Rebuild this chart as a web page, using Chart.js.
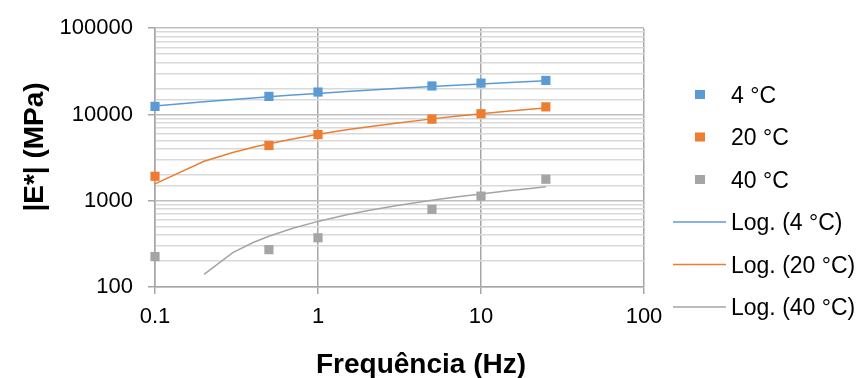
<!DOCTYPE html>
<html>
<head>
<meta charset="utf-8">
<script src="https://cdn.jsdelivr.net/npm/chart.js@4.4.1/dist/chart.umd.min.js"></script>
<style>
  html, body { margin: 0; padding: 0; background: #fff; }
  #wrap { width: 863px; height: 378px; position: relative; }
</style>
</head>
<body>
<div id="wrap"><canvas id="chart"></canvas></div>
<script>
// measured points
const freqs = [0.1, 0.5, 1, 5, 10, 25];
const e4 = [12400, 16200, 18200, 21400, 23100, 24800];
const e20 = [1920, 4370, 5850, 8830, 10200, 12250];
const e40 = [225, 271, 372, 795, 1130, 1775];

// log trendlines
const trendFreqs = [0.1, 0.2, 0.3, 0.4, 0.5, 0.7, 1, 1.5, 2, 3, 5, 7, 10, 15, 20, 25];
const trend4 = [12500, 14020, 14910, 15540, 16030, 16770, 17550, 18430, 19070, 19950, 21070, 21810, 22590, 23480, 24110, 24600];
const trend20 = [1570, 2870, 3620, 4160, 4580, 5210, 5880, 6630, 7170, 7930, 8890, 9510, 10180, 10940, 11480, 11890];
const trend40 = [null, 140, 250, 328, 388, 479, 576, 686, 764, 874, 1012, 1103, 1200, 1310, 1388, 1448];

const xTicks = [0.1, 1, 10, 100];
const seriesLabels = ['4 °C', '20 °C', '40 °C'];
const trendLabels = ['Log. (4 °C)', 'Log. (20 °C)', 'Log. (40 °C)'];
const xTitle = 'Frequência (Hz)';
const yTitle = '|E*| (MPa)';

const colors = ['#5b9bd5', '#ed7d31', '#a5a5a5'];
const FONT = "'Liberation Sans', Arial, sans-serif";

function pts(xs, ys) {
  return xs.map((x, i) => ({ x: x, y: ys[i] })).filter(p => p.y != null);
}

const datasets = [];
[e4, e20, e40].forEach((ys, i) => {
  datasets.push({
    label: seriesLabels[i],
    data: pts(freqs, ys),
    showLine: false,
    pointStyle: 'rect',
    pointRadius: 6.5,
    pointBorderWidth: 0,
    backgroundColor: colors[i],
    borderColor: colors[i],
    clip: false,
    order: 1
  });
});
[trend4, trend20, trend40].forEach((ys, i) => {
  datasets.push({
    label: trendLabels[i],
    data: pts(trendFreqs, ys),
    showLine: true,
    pointRadius: 0,
    borderWidth: 1.5,
    borderColor: colors[i],
    backgroundColor: colors[i],
    tension: 0,
    clip: false,
    order: 2
  });
});

// legend + axis titles drawn by hand to sit where Excel puts them
const decor = {
  id: 'decor',
  afterDraw(chart) {
    const ctx = chart.ctx;
    ctx.save();
    ctx.fillStyle = '#000';
    ctx.font = '23px ' + FONT;
    ctx.textAlign = 'left';
    ctx.textBaseline = 'alphabetic';
    chart.data.datasets.forEach((ds, i) => {
      const cy = 94.5 + i * 42.5;
      if (ds.showLine) {
        ctx.strokeStyle = ds.borderColor;
        ctx.lineWidth = 1.5;
        ctx.beginPath();
        ctx.moveTo(673, cy);
        ctx.lineTo(726, cy);
        ctx.stroke();
      } else {
        ctx.fillStyle = ds.backgroundColor;
        ctx.fillRect(695, cy - 4.5, 10, 9);
      }
      ctx.fillStyle = '#000';
      ctx.fillText(ds.label, 731, cy + 8.2);
    });

    ctx.font = 'bold 28px ' + FONT;
    ctx.textAlign = 'center';
    ctx.fillText(xTitle, 421, 373);
    ctx.translate(43, 147);
    ctx.rotate(-Math.PI / 2);
    ctx.fillText(yTitle, 0, 0);
    ctx.restore();
  }
};

const isDecade = v => Math.abs(Math.log10(v) - Math.round(Math.log10(v))) < 1e-9;

new Chart(document.getElementById('chart'), {
  type: 'scatter',
  data: { datasets: datasets },
  options: {
    responsive: true,
    maintainAspectRatio: false,
    animation: false,
    layout: { padding: { top: 26, right: 219, left: 0, bottom: 0 } },
    plugins: {
      legend: { display: false },
      tooltip: { enabled: false }
    },
    scales: {
      x: {
        type: 'logarithmic',
        min: 0.1,
        max: 100,
        afterBuildTicks: scale => { scale.ticks = xTicks.map(v => ({ value: v })); },
        afterFit: scale => { scale.height = 91; },
        border: { color: '#a6a6a6', width: 1.5 },
        grid: { color: '#a6a6a6', lineWidth: 1.5, tickLength: 7, tickColor: '#a6a6a6' },
        ticks: {
          autoSkip: false,
          maxRotation: 0,
          padding: 10,
          color: '#000',
          font: { family: FONT, size: 22 },
          callback: v => String(v)
        }
      },
      y: {
        type: 'logarithmic',
        min: 100,
        max: 100000,
        afterFit: scale => { scale.width = 155; },
        border: { color: '#a6a6a6', width: 1.5 },
        grid: {
          lineWidth: 1.5,
          tickLength: 7,
          color: c => isDecade(c.tick.value) ? '#bfbfbf' : '#d9d9d9',
          tickColor: c => isDecade(c.tick.value) ? '#a6a6a6' : 'rgba(0,0,0,0)'
        },
        ticks: {
          autoSkip: false,
          padding: 15,
          color: '#000',
          font: { family: FONT, size: 22 },
          callback: v => isDecade(v) ? String(v) : ''
        }
      }
    }
  },
  plugins: [decor]
});
</script>
</body>
</html>
